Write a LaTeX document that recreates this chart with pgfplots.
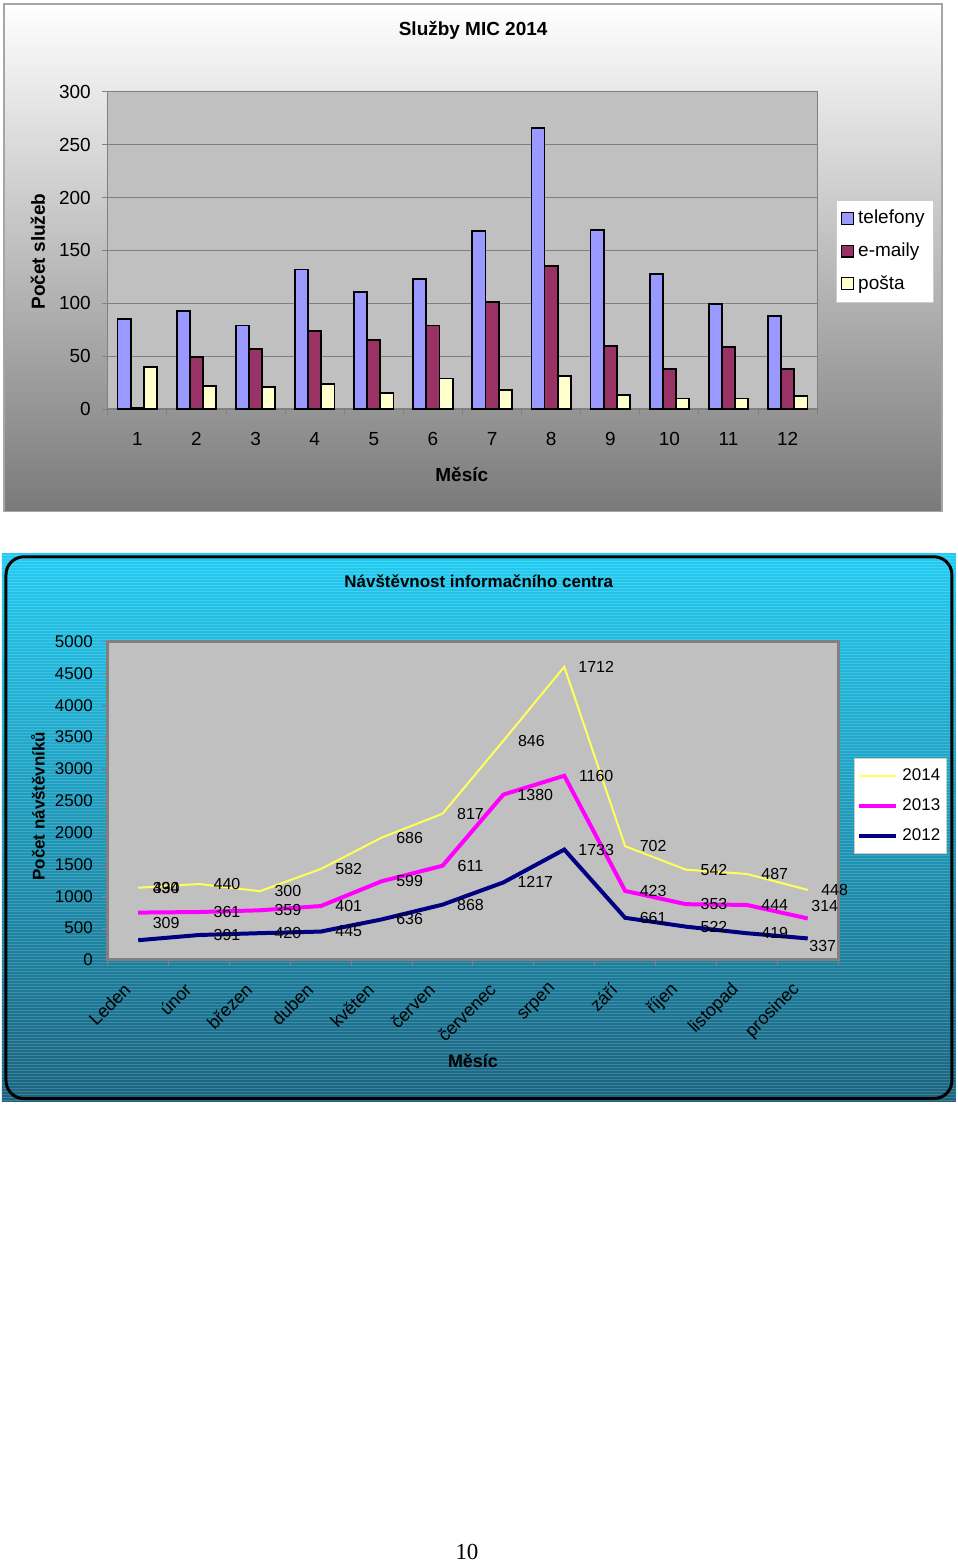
\documentclass[border=0pt]{standalone}
\usepackage{fontspec}
\setmainfont{Liberation Sans}
\newfontfamily\seriffont{Liberation Serif}
\usepackage{pgfplots}
\pgfplotsset{compat=1.18}
\usepackage{pgfplotstable}
\pgfplotsset{/pgf/number format/1000 sep={}}

\definecolor{telc}{RGB}{153,153,255}
\definecolor{emc}{RGB}{153,51,102}
\definecolor{posc}{RGB}{255,255,204}
\definecolor{plotbg}{RGB}{192,192,192}
\definecolor{gridc}{RGB}{128,128,128}
\definecolor{ctop}{RGB}{34,204,242}
\definecolor{cmid}{RGB}{28,162,204}
\definecolor{cbot}{RGB}{27,100,128}
\definecolor{y14}{RGB}{255,255,90}
\definecolor{m13}{RGB}{255,0,255}
\definecolor{n12}{RGB}{0,0,128}

\pgfplotstableread{
x tel em pos
1 85 1 40
2 93 49 22
3 79 57 21
4 132 74 24
5 111 65 15
6 123 79 29
7 168 101 18
8 266 135 31
9 169 60 13
10 128 38 10
11 99 59 10
12 88 38 12
}\sluzby

\pgfplotstableread{
x v12 v13 v14 dxa dya dxb dyb dxc dyc
1 309 434 390 14 8.5 14 12.3 14 0
2 391 361 440 14 0 14 0 14 0
3 420 359 300 14 0 14 0 14 0
4 445 401 582 14 0 14 0 14 0
5 636 599 686 14 0 14 0 14 0
6 868 611 817 14 0 14 0 14 0
7 1217 1380 846 16 0 16 0 14 0
8 1733 1160 1712 16 0 16 0 16 0
9 661 423 702 14 0 14 0 14 0
10 522 353 542 14 0 14 0 14 0
11 419 444 487 14 0 14 0 14 0
12 337 314 448 7.5 -3.75 8.5 6.25 13.5 0
}\navst

\begin{document}
\begin{tikzpicture}[x=0.5pt,y=0.5pt]
\path[fill=white] (0,0) rectangle (960,1566);
% ---------- top chart frame
\shade[top color=white, middle color={rgb,255:red,212;green,212;blue,212}, bottom color={rgb,255:red,122;green,122;blue,122}] (4,1053) rectangle (944,1562);
\draw[gray!70, line width=0.6pt] (4,1053) rectangle (944,1562);

\begin{axis}[
  at={(54pt,578pt)}, anchor=south west,
  scale only axis, width=355.5pt, height=159pt,
  xmin=0.5, xmax=12.5, ymin=0, ymax=300,
  ybar=0pt, bar width=6.6pt,
  xtick={1,...,12}, ytick={0,50,...,300},
  minor xtick={0.5,1.5,...,12.5},
  xtick pos=bottom, ytick pos=left,
  tick align=outside,
  major x tick style={draw=none},
  minor x tick style={gridc, line width=0.5pt},
  major y tick style={gridc, line width=0.5pt},
  major tick length=3pt, minor tick length=3pt,
  ymajorgrids, major grid style={gridc, line width=0.5pt},
  axis line style={gridc, line width=0.6pt},
  axis background/.style={fill=plotbg},
  tick label style={font=\fontsize{9.5}{11}\selectfont},
  /pgf/number format/assume math mode=true,
  xticklabel style={yshift=-5pt},
  yticklabel style={xshift=-2pt},
  title={\textbf{Služby MIC 2014}},
  title style={at={(axis description cs:0.515,1.195)}, anchor=center, yshift=-6pt, font=\fontsize{9.5}{11}\selectfont},
  xlabel={\textbf{Měsíc}},
  xlabel style={at={(axis description cs:0.499,-0.207)}, anchor=center, font=\fontsize{9.5}{11}\selectfont},
  ylabel={\textbf{Počet služeb}},
  ylabel style={at={(axis description cs:-0.0985,0.497)}, anchor=center, font=\fontsize{9.5}{11}\selectfont},
  legend style={at={(axis description cs:1.026,0.660)}, anchor=north west,
    draw=gray!40, fill=white, font=\fontsize{9.5}{11}\selectfont,
    row sep=4pt, inner xsep=2.5pt, inner ysep=3pt},
  legend cell align=left,
  legend image code/.code={\draw[#1,line width=0.6pt] (0pt,-3pt) rectangle (6pt,3pt);},
]
\addplot[fill=telc, draw=black, line width=0.9pt] table[x=x,y=tel] {\sluzby};
\addplot[fill=emc, draw=black, line width=0.9pt] table[x=x,y=em] {\sluzby};
\addplot[fill=posc, draw=black, line width=0.9pt] table[x=x,y=pos] {\sluzby};
\legend{telefony,e-maily,pošta}
\end{axis}

% ---------- bottom chart frame
\shade[top color=ctop, middle color=cmid, bottom color=cbot] (2,462) rectangle (958,1011);
\foreach \yy in {463,466,...,1010} \draw[white, opacity=0.16, line width=0.5pt] (2,\yy) -- (958,\yy);
\draw[black, line width=1.5pt, rounded corners=9pt] (6,465) rectangle (954,1008);

\begin{axis}[
  at={(54pt,302pt)}, anchor=south west,
  scale only axis, width=366pt, height=159.5pt,
  xmin=0.5, xmax=12.5, ymin=0, ymax=5000,
  stack plots=y, clip=false,
  scaled y ticks=false,
  xtick={1,...,12},
  xticklabels={Leden,únor,březen,duben,květen,červen,červenec,srpen,září,říjen,listopad,prosinec},
  ytick={0,500,...,5000},
  minor xtick={0.5,1.5,...,12.5},
  xtick pos=bottom, ytick pos=left,
  tick align=outside,
  major x tick style={draw=none},
  minor x tick style={gridc, line width=0.5pt},
  major y tick style={gridc, line width=0.5pt},
  major tick length=3pt, minor tick length=3pt,
  axis line style={gridc, line width=1.5pt},
  axis background/.style={fill=plotbg},
  /pgf/number format/assume math mode=true,
  yticklabel style={font=\fontsize{8.5}{10}\selectfont, xshift=-1pt},
  xticklabel style={font=\fontsize{9}{10}\selectfont, yshift=-8pt, xshift=-3pt, rotate=45, anchor=east},
  title={\textbf{Návštěvnost informačního centra}},
  title style={at={(axis description cs:0.508,1.191)}, anchor=center, yshift=-6pt, font=\fontsize{8.5}{10}\selectfont},
  xlabel={\textbf{Měsíc}},
  xlabel style={at={(axis description cs:0.5,-0.3166)}, anchor=center, font=\fontsize{9}{10}\selectfont},
  ylabel={\textbf{Počet návštěvníků}},
  ylabel style={at={(axis description cs:-0.0956,0.483)}, anchor=center, font=\fontsize{8.5}{10}\selectfont},
  legend style={at={(axis description cs:1.0219,0.633)}, anchor=north west,
    draw=gray!40, fill=white, font=\fontsize{8.5}{10}\selectfont,
    row sep=3.5pt, inner xsep=1pt, inner ysep=3pt},
  legend cell align=left, reverse legend,
  legend image code/.code={\draw[#1] (0pt,0pt) -- (19pt,0pt);},
  every node near coord/.append style={font=\fontsize{8}{9}\selectfont, text=black, anchor=center},
]
\addplot[n12, line width=2pt, nodes near coords, point meta=explicit,
  visualization depends on={\thisrow{dxa} \as \dx},
  visualization depends on={\thisrow{dya} \as \dy},
  every node near coord/.append style={xshift=\dx pt, yshift=\dy pt}]
  table[x=x, y=v12, meta=v12] {\navst};
\addplot[m13, line width=2pt, nodes near coords, point meta=explicit,
  visualization depends on={\thisrow{dxb} \as \dx},
  visualization depends on={\thisrow{dyb} \as \dy},
  every node near coord/.append style={xshift=\dx pt, yshift=\dy pt}]
  table[x=x, y=v13, meta=v13] {\navst};
\addplot[y14, line width=1pt, nodes near coords, point meta=explicit,
  visualization depends on={\thisrow{dxc} \as \dx},
  visualization depends on={\thisrow{dyc} \as \dy},
  every node near coord/.append style={xshift=\dx pt, yshift=\dy pt}]
  table[x=x, y=v14, meta=v14] {\navst};
\legend{2012,2013,2014}
\end{axis}

\node[font=\seriffont\fontsize{11.5}{13}\selectfont] at (468,11) {10};
\end{tikzpicture}
\end{document}
